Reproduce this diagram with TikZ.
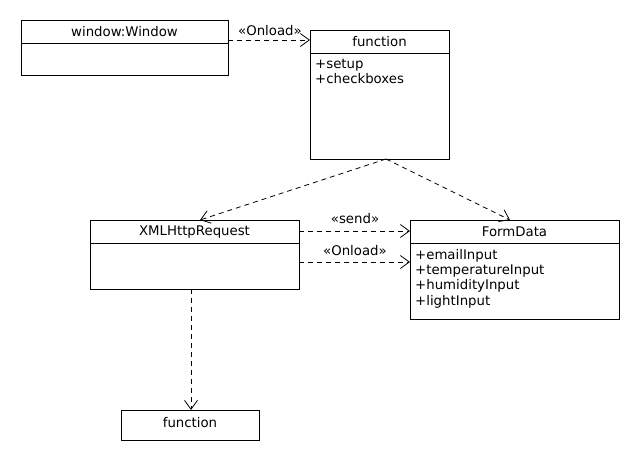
\documentclass[tikz,border=0pt]{standalone}
\usepackage{fontspec}
\setmainfont{DejaVu Sans}
\usetikzlibrary{arrows.meta,calc}
\begin{document}
\begin{tikzpicture}[x=1pt,y=-1pt,
  box/.style={draw,line width=0.9pt,anchor=north west,inner sep=0pt,minimum width=#1},
  ttl/.style={font=\fontsize{13.3}{15}\selectfont,inner sep=0pt},
  attrs/.style={font=\fontsize{13.3}{15.3}\selectfont,inner sep=0pt,anchor=north west,align=left},
  lbl/.style={font=\fontsize{13.3}{15}\selectfont,inner sep=0pt},
  dep/.style={line width=0.8pt,dash pattern=on 5pt off 4pt,-{Straight Barb[length=9pt,width=13pt,line width=0.8pt]}}]
\useasboundingbox (0,0) rectangle (640,460);
% window:Window
\node[box=207pt,minimum height=55pt] (win) at (21,20) {};
\draw[line width=0.9pt] (21,43) -- (228,43);
\node[ttl] (wint) at (124.5,32) {window:Window};
% function (top)
\node[box=139pt,minimum height=129pt] (fn) at (310,30) {};
\draw[line width=0.9pt] (310,53) -- (449,53);
\node[ttl] (fnt) at (379.5,42) {function};
\node[attrs] (fna) at (315,59) {+setup\\+checkboxes};
% XMLHttpRequest
\node[box=209pt,minimum height=69pt] (xhr) at (90,220) {};
\draw[line width=0.9pt] (90,243) -- (299,243);
\node[ttl] (xhrt) at (194.5,232) {XMLHttpRequest};
% FormData
\node[box=209pt,minimum height=99pt] (fd) at (410,220) {};
\draw[line width=0.9pt] (410,243) -- (619,243);
\node[ttl] (fdt) at (514.5,232) {FormData};
\node[attrs] (fda) at (415,249) {+emailInput\\+temperatureInput\\+humidityInput\\+lightInput};
% function (bottom)
\node[box=138pt,minimum height=30pt] (fb) at (121,410) {};
\node[ttl] (fbt) at (190,423) {function};
% connectors
\coordinate (fs) at (386,159);
\draw[dep] (228,40) -- (310,40);
\node[lbl] (l1) at (270,31) {«Onload»};
\draw[dep] (fs) -- (200,220);
\draw[dep] (fs) -- (510,220);
\draw[dep] (299,231) -- (410,231);
\node[lbl] (l2) at (355,219) {«send»};
\draw[dep] (299,262) -- (410,262);
\node[lbl] (l3) at (355,251) {«Onload»};
\draw[dep] (191,289) -- (191,410);
\end{tikzpicture}
\end{document}
